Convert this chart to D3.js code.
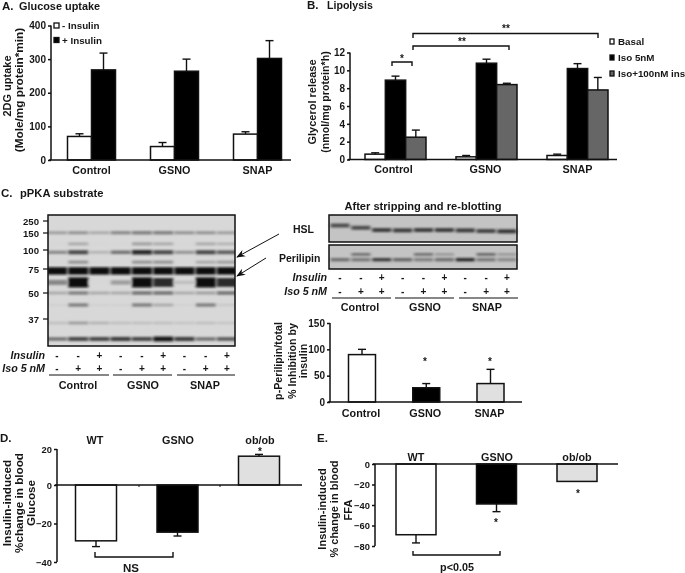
<!DOCTYPE html>
<html><head><meta charset="utf-8">
<script src="https://cdn.jsdelivr.net/npm/d3@7/dist/d3.min.js"></script>
<style>
html,body{margin:0;padding:0;background:#fff;width:685px;height:573px;overflow:hidden}
svg{display:block;filter:blur(0.4px)}
text{font-family:"Liberation Sans",Arial,sans-serif;font-weight:bold;fill:#161616}
</style></head><body>
<svg id="c" width="685" height="573"></svg>
<script>
// ---------- data ----------
const groups = ["Control","GSNO","SNAP"];
const groupsVivo = ["WT","GSNO","ob/ob"];
const seriesA = ["- Insulin","+ Insulin"];
const valuesA = [[70,268],[40,264],[77,302]];
const topsA = [[78,318],[52,300],[84,355]];
const ticksA = [0,100,200,300,400];
const seriesB = ["Basal","Iso 5nM","Iso+100nM ins"];
const valuesB = [[0.6,8.9,2.5],[0.3,10.8,8.4],[0.45,10.2,7.8]];
const topsB = [[0.75,9.35,3.3],[0.45,11.25,8.55],[0.6,10.75,9.2]];
const ticksB = [0,2,4,6,8,10,12];
const valuesC = [90,27,35];
const topsC = [100,35,62];
const ticksC = [0,50,100,150];
const valuesD = [-29,-24.5,16];
const topsD = [-32,-26.5,17];
const ticksD = [-40,-20,0,20];
const valuesE = [-69,-39,-17];
const topsE = [-77,-46.5,-17];
const ticksE = [-80,-60,-40,-20,0];
const mwLabels = [250,150,100,75,50,37];
const lanes = [0,1,2,3,4,5,6,7,8];
const insulinSigns = ["-","-","+","-","-","+","-","-","+"];
const isoSigns = ["-","+","+","-","+","+","-","+","+"];
const bandMW = [152,118,97,84,73,61,50,44,35,27];
const bandDark = [
 [.3,.35,.25,.4,.45,.45,.35,.35,.3],
 [.03,.25,.03,.03,.3,.25,.03,.25,.2],
 [.4,.7,.2,.5,.85,.7,.35,.7,.6],
 [.03,.35,.03,.03,.35,.35,.03,.25,.3],
 [.98,.98,.98,.98,.98,.98,.98,.98,.98],
 [.4,1,.03,.3,1,.85,.15,1,.85],
 [.25,.45,.25,.25,.5,.5,.25,.3,.5],
 [.06,.45,.06,.06,.45,.25,.05,.45,.1],
 [.15,.3,.2,.15,.15,.15,.12,.15,.12],
 [.5,.7,.7,.75,.7,.95,.75,.5,.6]
];
const hslDrift = [0,.35,.7,.75,.7,.7,.75,.85,.9];
const hslDark = [.7,.7,.8,.8,.8,.8,.8,.75,.85];
const periLower = [.5,.45,.8,.55,.4,.5,.9,.45,.35];
const periUpper = [.05,.5,.05,.05,.5,.25,.05,.55,.25];

// ---------- helpers ----------
const svg = d3.select("#c");
const defs = svg.append("defs");
defs.append("filter").attr("id","gel").attr("x","-20%").attr("y","-100%").attr("width","140%").attr("height","300%")
  .append("feGaussianBlur").attr("stdDeviation","1.6 1");
const FS = 10, LBL = 10.8, TITLE = 10.9, ink = "#111";
function txt(g,x,y,s,o={}){
  const t=g.append("text").attr("x",x).attr("y",y).attr("dominant-baseline","central")
    .attr("text-anchor",o.a||"start").attr("font-size",o.s||FS).text(s);
  if(o.i) t.attr("font-style","italic");
  return t;
}
function vtxt(g,x,y,s,o={}){
  return g.append("text").attr("transform",`translate(${x},${y}) rotate(-90)`)
    .attr("text-anchor","middle").attr("dominant-baseline","central")
    .attr("font-size",o.s||FS).text(s);
}
function line(g,pts,w=1.4){
  g.append("path").attr("d",d3.line()(pts)).attr("fill","none").attr("stroke",ink).attr("stroke-width",w);
}
function bracket(g,x0,x1,yA,yB){ line(g,[[x0,yB],[x0,yA],[x1,yA],[x1,yB]]); }
function yAxis(g,scale,x,ticks,size){
  const a=g.append("g").attr("transform",`translate(${x},0)`)
    .call(d3.axisLeft(scale).tickValues(ticks).tickSize(3).tickPadding(2).tickFormat(d3.format("d")));
  a.selectAll("path,line").attr("stroke",ink).attr("stroke-width",1.5);
  a.select(".domain").attr("d",`M0,${scale.range()[0]}V${scale.range()[scale.range().length-1]}`);
  a.selectAll("text").attr("font-size",size||FS);
  a.attr("font-family",null);
  return a;
}
function bars(g,rows,x,y,w,fills){
  const y0=y(0);
  g.selectAll(null).data(rows).join("rect")
    .attr("x",d=>x(d)-w/2).attr("width",w)
    .attr("y",d=>Math.min(y(d.v),y0)).attr("height",d=>Math.abs(y(d.v)-y0))
    .attr("fill",d=>fills[d.i]).attr("stroke",ink).attr("stroke-width",1.5);
  rows.forEach(d=>{
    if(d.t===d.v) return;
    line(g,[[x(d),y(d.v)],[x(d),y(d.t)]],1.4);
    line(g,[[x(d)-4,y(d.t)],[x(d)+4,y(d.t)]],1.4);
  });
}

// ---------- panel A ----------
{
  const g=svg.append("g");
  txt(g,2,6,"A.",{s:11.5}); txt(g,19,6,"Glucose uptake",{s:TITLE});
  const y=d3.scaleLinear().domain([0,400]).range([160,25.5]);
  const gx=d3.scalePoint().domain(groups).range([91.5,257.5]);
  const ix=d3.scaleBand().domain(seriesA).range([-24,24]);
  const rows=[]; groups.forEach((c,a)=>seriesA.forEach((s,b)=>rows.push({c,s,i:b,v:valuesA[a][b],t:topsA[a][b]})));
  bars(g,rows,d=>gx(d.c)+ix(d.s)+ix.bandwidth()/2,y,ix.bandwidth(),["#fff","#000"]);
  yAxis(g,y,51,ticksA);
  line(g,[[49,160],[291,160]],1.5);
  groups.forEach(c=>txt(g,gx(c),169.5,c,{a:"middle",s:LBL}));
  vtxt(g,7,86,"2DG uptake",{s:11}); vtxt(g,19,90,"(Mole/mg protein*min)",{s:11.8});
  [0,1].forEach(i=>{
    const ly=d3.scalePoint().domain(seriesA).range([25.5,40])(seriesA[i]);
    g.append("rect").attr("x",54).attr("y",ly-2.5).attr("width",5).attr("height",5)
      .attr("fill",["#fff","#000"][i]).attr("stroke",ink).attr("stroke-width",1.3);
    txt(g,62,ly,seriesA[i],{s:9.8});
  });
}
// ---------- panel B ----------
{
  const g=svg.append("g");
  txt(g,307,5,"B.",{s:11.5}); txt(g,327,5,"Lipolysis",{s:10.6});
  const y=d3.scaleLinear().domain([0,12]).range([159.5,52.5]);
  const gx=d3.scalePoint().domain(groups).range([395.5,577.5]);
  const ix=d3.scaleBand().domain(seriesB).range([-30.5,30.5]);
  const rows=[]; groups.forEach((c,a)=>seriesB.forEach((s,b)=>rows.push({c,s,i:b,v:valuesB[a][b],t:topsB[a][b]})));
  const f=["#fff","#000","#666"];
  bars(g,rows,d=>gx(d.c)+ix(d.s)+ix.bandwidth()/2,y,ix.bandwidth(),f);
  yAxis(g,y,350,ticksB);
  line(g,[[348,159.5],[617,159.5]],1.5);
  groups.forEach((c,i)=>txt(g,gx(c)-[2,1,0][i],169,c,{a:"middle",s:LBL}));
  vtxt(g,312,102,"Glycerol  release",{s:11}); vtxt(g,325,102,"(nmol/mg protein*h)",{s:10.7});
  const ly=d3.scalePoint().domain(seriesB).range([41,73]);
  seriesB.forEach((s,i)=>{
    g.append("rect").attr("x",610).attr("y",ly(s)-2).attr("width",4).attr("height",5)
      .attr("fill",f[i]).attr("stroke",ink).attr("stroke-width",1.3);
    txt(g,618,ly(s),s,{s:9.8});
  });
  bracket(g,392,412,62,66); bracket(g,413,509,46,50); bracket(g,413,598,33.5,38);
  txt(g,402,58,"*",{a:"middle"}); txt(g,462,41,"**",{a:"middle"}); txt(g,506,28,"**",{a:"middle"});
}
// ---------- panel C blots ----------
function signRows(g,lx,insY,isoY,labelX){
  txt(g,labelX,insY,"Insulin",{a:"end",i:1,s:10.7}); txt(g,labelX,isoY,"Iso 5 nM",{a:"end",i:1,s:10.7});
  lanes.forEach(i=>{
    txt(g,lx(i),insY,insulinSigns[i],{a:"middle",s:10});
    txt(g,lx(i),isoY,isoSigns[i],{a:"middle",s:10});
  });
}
{
  const g=svg.append("g");
  txt(g,1,193,"C.",{s:11.5}); txt(g,20,193,"pPKA substrate",{s:11.2});
  const lx=d3.scalePoint().domain(lanes).range([57,227]);
  const my=d3.scaleLinear().domain([250,150,100,75,50,37,25]).range([221,233,250,269,293,319,343]);
  const dark=d3.scaleLinear().domain([0,1]).range(["#dcdcdc","#0a0a0a"]);
  defs.append("clipPath").attr("id","cl").append("rect").attr("x",48).attr("y",215).attr("width",187).attr("height",131);
  g.append("rect").attr("x",48).attr("y",215).attr("width",187).attr("height",131).attr("fill","#d8d8d8");
  const b=g.append("g").attr("clip-path","url(#cl)").append("g").attr("filter","url(#gel)");
  bandMW.forEach((m,r)=>lanes.forEach(i=>{
    const v=bandDark[r][i]; const h=2+v*(m===61?8:m===73?5.5:3);
    b.append("rect").attr("x",lx(i)-10).attr("width",20).attr("y",my(m)-h/2).attr("height",h).attr("fill",dark(v));
  }));
  g.append("rect").attr("x",48).attr("y",215).attr("width",187).attr("height",131).attr("fill","none").attr("stroke",ink).attr("stroke-width",1.5);
  mwLabels.forEach(m=>{ txt(g,39,my(m),m,{a:"end",s:9.6}); line(g,[[43,my(m)],[48,my(m)]],1.2); });
  signRows(g,lx,355,368,45);
  [[49,109],[113,172],[177,235]].forEach((p,i)=>{
    line(g,[[p[0],375],[p[1],375]],1.2);
    txt(g,[78,143,205][i],385,groups[i],{a:"middle",s:LBL});
  });
  defs.append("marker").attr("id","ah").attr("viewBox","0 0 10 10").attr("refX",9).attr("refY",5)
    .attr("markerWidth",9).attr("markerHeight",9).attr("orient","auto")
    .append("path").attr("d","M0,1L10,5L0,9L3,5Z").attr("fill",ink);
  [[[279,234],[237,257]],[[266,258],[237,276]]].forEach(p=>{
    g.append("path").attr("d",d3.line()(p)).attr("stroke",ink).attr("stroke-width",1).attr("marker-end","url(#ah)");
  });
}
{
  const g=svg.append("g");
  const lx=d3.scalePoint().domain(lanes).range([340,507]);
  const dark=d3.scaleLinear().domain([0,1]).range(["#c6c6c6","#1a1a1a"]);
  txt(g,423,206,"After stripping and re-blotting",{a:"middle",s:11.1});
  txt(g,293,229,"HSL",{s:10.5}); txt(g,279,258,"Perilipin",{s:10.5});
  [[215,27],[245,24]].forEach(r=>g.append("rect").attr("x",329).attr("y",r[0]).attr("width",188).attr("height",r[1]).attr("fill","#c4c4c4"));
  const b=g.append("g").attr("filter","url(#gel)");
  const drift=d3.scaleLinear().domain([0,1]).range([225.5,232]);
  lanes.forEach(i=>{
    b.append("rect").attr("x",lx(i)-9.5).attr("width",19).attr("y",drift(hslDrift[i])-2).attr("height",4).attr("fill",dark(hslDark[i]));
    b.append("rect").attr("x",lx(i)-9.5).attr("width",19).attr("y",258).attr("height",3.4).attr("fill",dark(periLower[i]));
    if(periUpper[i]>.1) b.append("rect").attr("x",lx(i)-9.5).attr("width",19).attr("y",253).attr("height",2.8).attr("fill",dark(periUpper[i]));
  });
  [[215,27],[245,24]].forEach(r=>g.append("rect").attr("x",329).attr("y",r[0]).attr("width",188).attr("height",r[1]).attr("fill","none").attr("stroke",ink).attr("stroke-width",1.5));
  signRows(g,lx,277,291,327);
  [[332,391],[395,454],[459,518]].forEach((p,i)=>{
    line(g,[[p[0],298],[p[1],298]],1.2);
    txt(g,[360,425,487][i],307,groups[i],{a:"middle",s:LBL});
  });
  const y=d3.scaleLinear().domain([0,150]).range([402,323]);
  const x=d3.scalePoint().domain(groups).range([362,490.5]);
  const rows=groups.map((c,i)=>({c,i,v:valuesC[i],t:topsC[i]}));
  bars(g,rows,d=>x(d.c),y,27,["#fff","#000","#e0e0e0"]);
  yAxis(g,y,330,ticksC);
  line(g,[[328,402],[522,402]],1.5);
  groups.forEach(c=>txt(g,x(c)-1,413,c,{a:"middle",s:LBL}));
  vtxt(g,278,361,"p-Perilipin/total",{s:10.7}); vtxt(g,292,361,"% Inhibition by",{s:10.7}); vtxt(g,303,361,"insulin",{s:10.7});
  txt(g,425,361,"*",{a:"middle"}); txt(g,490,361,"*",{a:"middle"});
}
// ---------- panel D ----------
{
  const g=svg.append("g");
  txt(g,0,438,"D.",{s:11.5});
  const y=d3.scaleLinear().domain([-40,0,20]).range([562,485,449]);
  const x=d3.scalePoint().domain(groupsVivo).range([96,259]);
  const rows=groupsVivo.map((c,i)=>({c,i,v:valuesD[i],t:topsD[i]}));
  bars(g,rows,d=>x(d.c),y,41,["#fff","#000","#e0e0e0"]);
  yAxis(g,y,57,ticksD,9.4);
  line(g,[[55,485],[302,485]],1.5);
  [139,220].forEach(t=>line(g,[[t,485],[t,487]],1));
  groupsVivo.forEach((c,i)=>txt(g,[95,178,260][i],440,c,{a:"middle",s:LBL}));
  txt(g,260,451,"*",{a:"middle"});
  vtxt(g,6,503,"Insulin-induced",{s:11.7}); vtxt(g,18,503,"%change in blood",{s:11.7}); vtxt(g,30.5,503,"Glucose",{s:11.7});
  bracket(g,95,173,557,552);
  txt(g,131,568,"NS",{a:"middle",s:11.5});
}
// ---------- panel E ----------
{
  const g=svg.append("g");
  txt(g,317,438,"E.",{s:11.5});
  const y=d3.scaleLinear().domain([-80,0]).range([546,464]);
  const x=d3.scalePoint().domain(groupsVivo).range([416,577]);
  const rows=groupsVivo.map((c,i)=>({c,i,v:valuesE[i],t:topsE[i]}));
  bars(g,rows,d=>x(d.c),y,40,["#fff","#000","#e0e0e0"]);
  yAxis(g,y,375,ticksE,9.4);
  line(g,[[373,464],[618,464]],1.5);
  groupsVivo.forEach((c,i)=>txt(g,[416,497,577][i],457,c,{a:"middle",s:LBL}));
  txt(g,496,522,"*",{a:"middle"}); txt(g,578,493,"*",{a:"middle"});
  vtxt(g,322,509,"Insulin-induced",{s:11}); vtxt(g,334,509,"% change in blood",{s:11}); vtxt(g,348,510,"FFA",{s:11});
  bracket(g,413,500,555,551);
  txt(g,457,567,"p<0.05",{a:"middle",s:LBL});
}
</script>
</body></html>
